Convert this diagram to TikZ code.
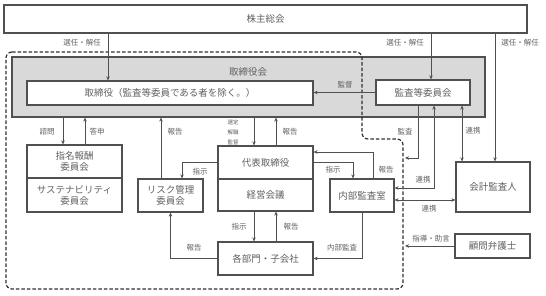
\documentclass[tikz,border=0pt]{standalone}
\usepackage{fontspec}
\setmainfont{Noto Sans CJK JP}
\usetikzlibrary{arrows.meta,calc}
\definecolor{ln}{HTML}{505050}
\definecolor{dk}{HTML}{303030}
\definecolor{tx}{HTML}{606060}
\definecolor{gfill}{HTML}{D9D9D9}
\begin{document}
\begin{tikzpicture}[x=1pt,y=-1pt,
  bx/.style={draw=ln,line width=1.2pt,fill=white,inner sep=0pt,text=tx,
    font=\fontsize{9.5}{11}\selectfont,align=center},
  lbl/.style={text=tx,font=\fontsize{7.5}{8}\selectfont,inner sep=0pt},
  arr/.style={draw=ln,line width=0.9pt,-{Stealth[length=4pt,width=3.5pt]}},
  arrb/.style={draw=ln,line width=0.9pt,{Stealth[length=4pt,width=3.5pt]}-{Stealth[length=4pt,width=3.5pt]}},
  ln0/.style={draw=ln,line width=0.9pt}]
\useasboundingbox (0,0) rectangle (546,296);
% boxes
\node[bx,minimum width=523pt,minimum height=28pt] (kabu) at (265.5,19) {株主総会};
\node[draw=ln,line width=1.2pt,fill=gfill,minimum width=473pt,minimum height=60pt,inner sep=0pt] (gray) at (248.5,87) {};
\node[lbl,font=\fontsize{9.5}{11}\selectfont] (grayl) at (248,72) {取締役会};
\node[bx,minimum width=286pt,minimum height=24pt] (tori) at (170,93) {取締役（監査等委員である者を除く。）};
\node[bx,minimum width=94pt,minimum height=25pt] (kansa) at (423,92.5) {監査等委員会};
\node[bx,minimum width=95pt,minimum height=33pt] (shimei) at (74.5,161.5) {指名報酬\\委員会};
\node[bx,minimum width=95pt,minimum height=34pt] (sust) at (74.5,195) {サステナビリティ\\委員会};
\node[bx,minimum width=65pt,minimum height=33pt] (risk) at (170.5,195.5) {リスク管理\\委員会};
\node[bx,minimum width=95pt,minimum height=33pt] (daihyo) at (265.5,162.5) {代表取締役};
\node[bx,minimum width=95pt,minimum height=32pt] (keiei) at (265.5,195) {経営会議};
\node[bx,minimum width=64pt,minimum height=33pt] (naibu) at (362,195.5) {内部監査室};
\node[bx,minimum width=95pt,minimum height=33pt] (kakubu) at (265.5,258.5) {各部門・子会社};
\node[bx,minimum width=74pt,minimum height=50pt] (kaikei) at (493,187) {会計監査人};
\node[bx,minimum width=75pt,minimum height=24pt] (komon) at (492.5,246) {顧問弁護士};
% dashed region
\draw[dk,line width=1.2pt,dash pattern=on 3.5pt off 2pt,rounded corners=6pt]
  (6,52) -- (362,52) -- (362,139) -- (403,139) -- (403,289) -- (6,289) -- cycle;
\coordinate (kansaEnd) at (405,158);
\coordinate (komonEnd) at (405,246);
% connectors
\draw[arr] (kabu.south -| 108,0) -- (tori.north -| 108,0);
\draw[arr] (kabu.south -| 431,0) -- (kansa.north -| 431,0);
\draw[arr] (kabu.south -| 495,0) -- (kaikei.north -| 495,0);
\draw[arr] (kansa.west) -- (tori.east |- kansa.west);
\draw[arr] (gray.south -| 63,0) -- (shimei.north -| 63,0);
\draw[arr] (shimei.north -| 85,0) -- (gray.south -| 85,0);
\draw[arr] (risk.north -| 161,0) -- (gray.south -| 161,0);
\draw[arr] (gray.south -| 254,0) -- (daihyo.north -| 254,0);
\draw[arr] (daihyo.north -| 276,0) -- (gray.south -| 276,0);
\draw[arr] (daihyo.west) -| ([xshift=11.5pt]risk.north);
\draw[arr] (daihyo.east) -| ([xshift=-9pt]naibu.north);
\draw[arr] ([xshift=11pt]naibu.north) |- ([yshift=10.5pt]daihyo.east);
\draw[arr] (keiei.south -| 254,0) -- (kakubu.north -| 254,0);
\draw[arr] (kakubu.north -| 276,0) -- (keiei.south -| 276,0);
\draw[arr] (kakubu.west) -| (risk.south);
\draw[arr] (naibu.south) |- (kakubu.east);
\draw[arr] ([xshift=-5pt]kansa.south) |- (kansaEnd);
\draw[arrb] ([xshift=11pt]kansa.south) |- ([yshift=7.5pt]naibu.east);
\draw[arrb] (kansa.south -| 462,0) -- (kaikei.north -| 462,0);
\draw[arrb] (naibu.east |- 0,200) -- (kaikei.west |- 0,200);
\draw[arr] (komon.west) -- (komonEnd);
% labels
\node[lbl] (t1) at (82,43) {選任・解任};
\node[lbl] (t2) at (405,43) {選任・解任};
\node[lbl] (t3) at (520,43) {選任・解任};
\node[lbl] (t4) at (345,85) {監督};
\node[lbl] (t5) at (47,132) {諮問};
\node[lbl] (t6) at (97,132) {答申};
\node[lbl] (t7) at (175,132) {報告};
\node[lbl,font=\fontsize{5.5}{10}\selectfont,align=center] (t8) at (233,132) {選定\\解職\\監督};
\node[lbl] (t9) at (290,132) {報告};
\node[lbl] (t10) at (405,132) {監査};
\node[lbl] (t11) at (473,131) {連携};
\node[lbl] (t12) at (200,172) {指示};
\node[lbl] (t13) at (333,170) {指示};
\node[lbl] (t14) at (386,170) {報告};
\node[lbl] (t15) at (423,180) {連携};
\node[lbl] (t16) at (429,209) {連携};
\node[lbl] (t17) at (239,227) {指示};
\node[lbl] (t18) at (291,227) {報告};
\node[lbl] (t19) at (194,248) {報告};
\node[lbl] (t20) at (342,248) {内部監査};
\node[lbl] (t21) at (431,239) {指導・助言};
\end{tikzpicture}
\end{document}
